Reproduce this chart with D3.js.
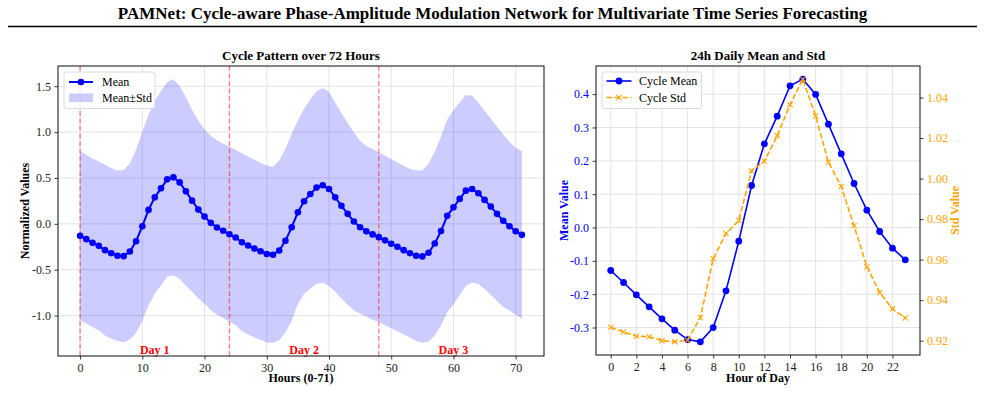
<!DOCTYPE html>
<html>
<head>
<meta charset="utf-8">
<script src="https://cdn.jsdelivr.net/npm/d3@7/dist/d3.min.js"></script>
<style>
  body { margin: 0; background: #fff; }
  text { font-family: "Liberation Serif", "Times New Roman", serif; }
</style>
</head>
<body>
<div id="chart"></div>
<script>
// ---- data ----
const figTitle = "PAMNet: Cycle-aware Phase-Amplitude Modulation Network for Multivariate Time Series Forecasting";

// 72 hourly means (left panel), index = hour
const meanHourly = [
  -0.131,-0.167,-0.207,-0.240,-0.287,-0.320,-0.348,-0.352,-0.301,-0.189,-0.026,0.152,
   0.289, 0.387, 0.485, 0.507, 0.452, 0.354, 0.253, 0.155, 0.079, 0.011,-0.040,-0.076,
  -0.113,-0.149,-0.200,-0.236,-0.270,-0.298,-0.328,-0.337,-0.290,-0.185,-0.037,0.126,
   0.246, 0.326, 0.395, 0.420, 0.380, 0.289, 0.196, 0.109, 0.025,-0.037,-0.082,-0.115,
  -0.145,-0.180,-0.217,-0.250,-0.287,-0.320,-0.348,-0.355,-0.315,-0.214,-0.078,0.087,
   0.180, 0.272, 0.362, 0.380, 0.333, 0.261, 0.188, 0.109, 0.033,-0.026,-0.080,-0.120
];
// 72 hourly std values (half-width of the band)
const stdHourly = [
  0.92,0.92,0.92,0.92,0.93,0.93,0.93,0.94,0.96,1.00,1.03,1.04,
  1.05,1.06,1.06,1.07,1.05,1.03,0.99,0.97,0.95,0.95,0.95,0.95,
  0.955,0.955,0.97,0.97,0.97,0.965,0.965,0.96,0.98,1.00,1.02,1.00,
  1.01,1.03,1.05,1.06,1.06,1.03,1.01,0.99,0.97,0.94,0.93,0.93,
  0.925,0.925,0.92,0.92,0.92,0.92,0.93,0.94,0.97,1.00,1.03,1.05,
  1.06,1.05,1.04,1.02,0.99,0.97,0.96,0.95,0.94,0.92,0.91,0.915
];
const dayStarts   = [0, 24, 48];
const dayLabels   = ["Day 1", "Day 2", "Day 3"];
const dayLabelPos = [12, 36, 60];

// 24h cycle (right panel), index = hour of day
const cycleMean = [
  -0.129,-0.165,-0.202,-0.238,-0.274,-0.308,-0.336,-0.343,-0.300,-0.190,-0.041,0.126,
   0.251, 0.334, 0.425, 0.445, 0.399, 0.310, 0.221, 0.132, 0.052,-0.012,-0.062,-0.097
];
const cycleStd = [
  0.9266,0.9243,0.9222,0.9219,0.9200,0.9194,0.9202,0.9314,0.9604,0.9729,0.9793,1.0039,
  1.0086,1.0212,1.0365,1.0491,1.0309,1.0081,0.9961,0.9767,0.9565,0.9438,0.9357,0.9312
];

// ticks
const leftXTicks  = [0, 10, 20, 30, 40, 50, 60, 70];
const leftYTicks  = [-1.0, -0.5, 0.0, 0.5, 1.0, 1.5];
const rightXTicks = [0, 2, 4, 6, 8, 10, 12, 14, 16, 18, 20, 22];
const meanTicks   = [-0.3, -0.2, -0.1, 0.0, 0.1, 0.2, 0.3, 0.4];
const stdTicks    = [0.92, 0.94, 0.96, 0.98, 1.00, 1.02, 1.04];

// ---- layout ----
const config = {
  width  : 985,
  height : 393,
  left   : { x0: 58,  x1: 544, y0: 66, y1: 356 },
  right  : { x0: 596, x1: 920, y0: 66, y1: 355 },
  gridColor : "#e3e3e3",
  bandColor : "#ccccff",
  tickFont  : "12px",
  labelFont : "12px",
};

const svg = d3.select("#chart")
  .append("svg")
    .attr("width", config.width)
    .attr("height", config.height);

// pad a domain by 5% like matplotlib does
function padDomain(lo, hi) {
  const m = (hi - lo) * 0.05;
  return [lo - m, hi + m];
}

function styleAxis(g, color) {
  g.select(".domain").remove();
  g.selectAll(".tick line").attr("stroke", "#222").attr("stroke-width", 0.9);
  g.selectAll(".tick text")
    .attr("fill", color || "#222")
    .style("font-size", config.tickFont)
    .style("font-family", "'Liberation Serif', serif");
}

// figure title + rule
svg.append("text")
  .attr("x", config.width / 2)
  .attr("y", 19)
  .attr("text-anchor", "middle")
  .style("font-size", "17px")
  .style("font-weight", "bold")
  .text(figTitle);

svg.append("line")
  .attr("x1", 8).attr("x2", 977)
  .attr("y1", 26.5).attr("y2", 26.5)
  .attr("stroke", "#000")
  .attr("stroke-width", 1.6);

// ================= LEFT PANEL =================
const L = config.left;
const upper = meanHourly.map((m, i) => m + stdHourly[i]);
const lower = meanHourly.map((m, i) => m - stdHourly[i]);

const xL = d3.scaleLinear()
  .domain(padDomain(0, meanHourly.length - 1))
  .range([L.x0, L.x1]);
const yL = d3.scaleLinear()
  .domain(padDomain(d3.min(lower), d3.max(upper)))
  .range([L.y1, L.y0]);

const left = svg.append("g");

// grid
left.selectAll(".vgrid").data(leftXTicks).enter().append("line")
  .attr("x1", d => xL(d)).attr("x2", d => xL(d))
  .attr("y1", L.y0).attr("y2", L.y1)
  .attr("stroke", config.gridColor).attr("stroke-width", 1);
left.selectAll(".hgrid").data(leftYTicks).enter().append("line")
  .attr("x1", L.x0).attr("x2", L.x1)
  .attr("y1", d => yL(d)).attr("y2", d => yL(d))
  .attr("stroke", config.gridColor).attr("stroke-width", 1);

// band
const band = d3.area()
  .x((d, i) => xL(i))
  .y0((d, i) => yL(lower[i]))
  .y1((d, i) => yL(upper[i]));
left.append("path")
  .datum(meanHourly)
  .attr("d", band)
  .attr("fill", "#0000ff")
  .attr("fill-opacity", 0.2);

// day separators
left.selectAll(".daysep").data(dayStarts).enter().append("line")
  .attr("x1", d => xL(d)).attr("x2", d => xL(d))
  .attr("y1", L.y0).attr("y2", L.y1)
  .attr("stroke", "red")
  .attr("stroke-opacity", 0.5)
  .attr("stroke-width", 1.3)
  .attr("stroke-dasharray", "5,2.5");

// mean line + markers
left.append("path")
  .datum(meanHourly)
  .attr("d", d3.line().x((d, i) => xL(i)).y(d => yL(d)))
  .attr("fill", "none")
  .attr("stroke", "blue")
  .attr("stroke-width", 2);
left.selectAll(".pt").data(meanHourly).enter().append("circle")
  .attr("cx", (d, i) => xL(i))
  .attr("cy", d => yL(d))
  .attr("r", 3.3)
  .attr("fill", "blue");

// day labels
left.selectAll(".daylab").data(dayLabels).enter().append("text")
  .attr("x", (d, i) => xL(dayLabelPos[i]))
  .attr("y", L.y1 - 2)
  .attr("text-anchor", "middle")
  .attr("fill", "red")
  .style("font-size", "12px")
  .style("font-weight", "bold")
  .text(d => d);

// axes
left.append("g")
  .attr("transform", `translate(0,${L.y1})`)
  .call(d3.axisBottom(xL).tickValues(leftXTicks).tickSize(3.5).tickPadding(3.5).tickFormat(d3.format("d")))
  .call(g => styleAxis(g));
left.append("g")
  .attr("transform", `translate(${L.x0},0)`)
  .call(d3.axisLeft(yL).tickValues(leftYTicks).tickSize(3.5).tickPadding(3.5).tickFormat(d => d3.format(".1f")(d).replace("−", "-")))
  .call(g => styleAxis(g));

left.append("rect")
  .attr("x", L.x0).attr("y", L.y0)
  .attr("width", L.x1 - L.x0).attr("height", L.y1 - L.y0)
  .attr("fill", "none").attr("stroke", "#222").attr("stroke-width", 1.1);

// titles / labels
left.append("text")
  .attr("x", (L.x0 + L.x1) / 2).attr("y", 60)
  .attr("text-anchor", "middle")
  .style("font-size", "13px").style("font-weight", "bold")
  .text("Cycle Pattern over 72 Hours");
left.append("text")
  .attr("x", (L.x0 + L.x1) / 2).attr("y", 382)
  .attr("text-anchor", "middle")
  .style("font-size", config.labelFont).style("font-weight", "bold")
  .text("Hours (0-71)");
left.append("text")
  .attr("transform", `translate(28.5,${(L.y0 + L.y1) / 2}) rotate(-90)`)
  .attr("text-anchor", "middle")
  .style("font-size", config.labelFont).style("font-weight", "bold")
  .text("Normalized Values");

// legend
const legL = left.append("g").attr("transform", `translate(${L.x0 + 6},${L.y0 + 6})`);
legL.append("rect")
  .attr("width", 91).attr("height", 36.5).attr("rx", 2.5)
  .attr("fill", "white").attr("fill-opacity", 0.85)
  .attr("stroke", "#d0d0d0").attr("stroke-width", 0.8);
legL.append("line").attr("x1", 5).attr("x2", 29).attr("y1", 10).attr("y2", 10)
  .attr("stroke", "blue").attr("stroke-width", 2);
legL.append("circle").attr("cx", 17).attr("cy", 10).attr("r", 3.3).attr("fill", "blue");
legL.append("text").attr("x", 38).attr("y", 14).style("font-size", "12px").text("Mean");
legL.append("rect").attr("x", 5).attr("y", 21.5).attr("width", 24).attr("height", 8.5)
  .attr("fill", "#0000ff").attr("fill-opacity", 0.2);
legL.append("text").attr("x", 38).attr("y", 30).style("font-size", "12px").text("Mean±Std");

// ================= RIGHT PANEL =================
const R = config.right;
const xR = d3.scaleLinear()
  .domain(padDomain(0, cycleMean.length - 1))
  .range([R.x0, R.x1]);
const yMean = d3.scaleLinear()
  .domain(padDomain(d3.min(cycleMean), d3.max(cycleMean)))
  .range([R.y1, R.y0]);
const yStd = d3.scaleLinear()
  .domain(padDomain(d3.min(cycleStd), d3.max(cycleStd)))
  .range([R.y1, R.y0]);

const right = svg.append("g");

right.selectAll(".vgrid").data(rightXTicks).enter().append("line")
  .attr("x1", d => xR(d)).attr("x2", d => xR(d))
  .attr("y1", R.y0).attr("y2", R.y1)
  .attr("stroke", config.gridColor).attr("stroke-width", 1);
right.selectAll(".hgrid").data(meanTicks).enter().append("line")
  .attr("x1", R.x0).attr("x2", R.x1)
  .attr("y1", d => yMean(d)).attr("y2", d => yMean(d))
  .attr("stroke", config.gridColor).attr("stroke-width", 1);

// cycle mean
right.append("path")
  .datum(cycleMean)
  .attr("d", d3.line().x((d, i) => xR(i)).y(d => yMean(d)))
  .attr("fill", "none").attr("stroke", "blue").attr("stroke-width", 1.6);
right.selectAll(".mpt").data(cycleMean).enter().append("circle")
  .attr("cx", (d, i) => xR(i)).attr("cy", d => yMean(d))
  .attr("r", 3.4).attr("fill", "blue");

// cycle std
right.append("path")
  .datum(cycleStd)
  .attr("d", d3.line().x((d, i) => xR(i)).y(d => yStd(d)))
  .attr("fill", "none").attr("stroke", "orange").attr("stroke-width", 1.6)
  .attr("stroke-dasharray", "5.5,2.4");
right.selectAll(".spt").data(cycleStd).enter().append("path")
  .attr("transform", (d, i) => `translate(${xR(i)},${yStd(d)})`)
  .attr("d", "M-2.6,-2.6L2.6,2.6M-2.6,2.6L2.6,-2.6")
  .attr("stroke", "orange").attr("stroke-width", 1.1);

// axes
right.append("g")
  .attr("transform", `translate(0,${R.y1})`)
  .call(d3.axisBottom(xR).tickValues(rightXTicks).tickSize(3.5).tickPadding(3.5).tickFormat(d3.format("d")))
  .call(g => styleAxis(g));
right.append("g")
  .attr("transform", `translate(${R.x0},0)`)
  .call(d3.axisLeft(yMean).tickValues(meanTicks).tickSize(3.5).tickPadding(3.5).tickFormat(d => d3.format(".1f")(d).replace("−", "-")))
  .call(g => styleAxis(g, "blue"));
right.append("g")
  .attr("transform", `translate(${R.x1},0)`)
  .call(d3.axisRight(yStd).tickValues(stdTicks).tickSize(3.5).tickPadding(3.5).tickFormat(d3.format(".2f")))
  .call(g => styleAxis(g, "orange"));

right.append("rect")
  .attr("x", R.x0).attr("y", R.y0)
  .attr("width", R.x1 - R.x0).attr("height", R.y1 - R.y0)
  .attr("fill", "none").attr("stroke", "#222").attr("stroke-width", 1.1);

right.append("text")
  .attr("x", (R.x0 + R.x1) / 2).attr("y", 60)
  .attr("text-anchor", "middle")
  .style("font-size", "13px").style("font-weight", "bold")
  .text("24h Daily Mean and Std");
right.append("text")
  .attr("x", (R.x0 + R.x1) / 2).attr("y", 382)
  .attr("text-anchor", "middle")
  .style("font-size", config.labelFont).style("font-weight", "bold")
  .text("Hour of Day");
right.append("text")
  .attr("transform", `translate(568,${(R.y0 + R.y1) / 2}) rotate(-90)`)
  .attr("text-anchor", "middle")
  .attr("fill", "blue")
  .style("font-size", config.labelFont).style("font-weight", "bold")
  .text("Mean Value");
right.append("text")
  .attr("transform", `translate(959,${(R.y0 + R.y1) / 2}) rotate(-90)`)
  .attr("text-anchor", "middle")
  .attr("fill", "orange")
  .style("font-size", config.labelFont).style("font-weight", "bold")
  .text("Std Value");

// legend
const legR = right.append("g").attr("transform", `translate(${R.x0 + 6},${R.y0 + 6})`);
legR.append("rect")
  .attr("width", 99.5).attr("height", 36.5).attr("rx", 2.5)
  .attr("fill", "white").attr("fill-opacity", 0.85)
  .attr("stroke", "#d0d0d0").attr("stroke-width", 0.8);
legR.append("line").attr("x1", 4.5).attr("x2", 29.5).attr("y1", 9).attr("y2", 9)
  .attr("stroke", "blue").attr("stroke-width", 1.6);
legR.append("circle").attr("cx", 17).attr("cy", 9).attr("r", 3.4).attr("fill", "blue");
legR.append("text").attr("x", 37).attr("y", 13).style("font-size", "12px").text("Cycle Mean");
legR.append("line").attr("x1", 4.5).attr("x2", 29.5).attr("y1", 25.5).attr("y2", 25.5)
  .attr("stroke", "orange").attr("stroke-width", 1.6).attr("stroke-dasharray", "5.5,2.4");
legR.append("path").attr("transform", "translate(17,25.5)")
  .attr("d", "M-2.6,-2.6L2.6,2.6M-2.6,2.6L2.6,-2.6")
  .attr("stroke", "orange").attr("stroke-width", 1.1);
legR.append("text").attr("x", 37).attr("y", 29.5).style("font-size", "12px").text("Cycle Std");
</script>
</body>
</html>
